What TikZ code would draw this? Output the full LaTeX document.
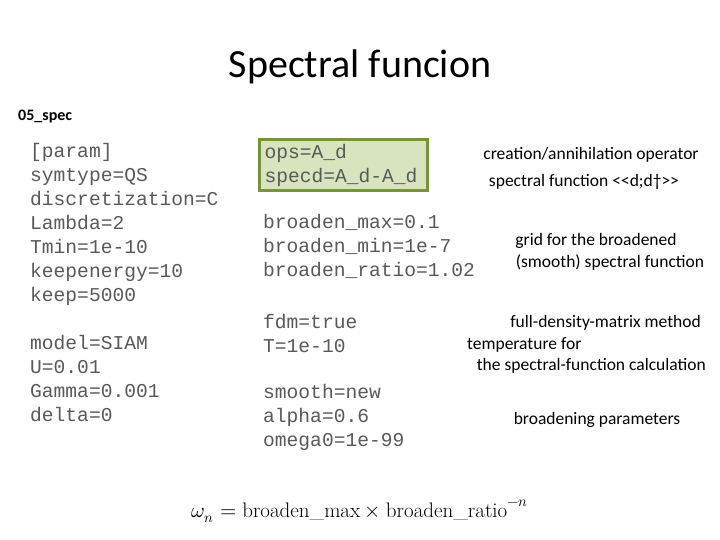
\documentclass[tikz,border=0pt]{standalone}
\usepackage{fontspec}
\setmainfont{Carlito}
\setmonofont{Liberation Mono}
\usepackage{amsmath}
\usepackage{unicode-math}
\setmathfont{Latin Modern Math}
\newfontfamily\lmr{Latin Modern Roman}
\definecolor{txt}{HTML}{595959}
\definecolor{boxfill}{HTML}{D7E4BD}
\definecolor{boxdraw}{HTML}{77933C}
\begin{document}
\begin{tikzpicture}[x=1pt,y=-1pt,
  code/.style={anchor=west,align=left,text=txt,font=\fontsize{19.6}{24}\ttfamily,inner sep=0pt},
  note/.style={font=\fontsize{17.5}{22}\selectfont,inner sep=0pt,align=center}]
\useasboundingbox (0,0) rectangle (720,540);
\node (title) at (360,67) {\fontsize{40}{48}\selectfont Spectral funcion};
\node[anchor=west,inner sep=0pt,font=\bfseries\fontsize{16}{18}\selectfont] (sec) at (18,117) {05\_spec};
\node[code] (p1) at (30,224) {[param]\\symtype=QS\\discretization=C\\Lambda=2\\Tmin=1e-10\\keepenergy=10\\keep=5000};
\node[code] (p2) at (30,379) {model=SIAM\\U=0.01\\Gamma=0.001\\delta=0};
\node[code,fill=boxfill,draw=boxdraw,line width=3pt,inner xsep=5pt,inner ysep=4pt,text width=158pt] (ops) at (258,165) {ops=A\_d\\specd=A\_d-A\_d};
\node[code] (b) at (263,246) {broaden\_max=0.1\\broaden\_min=1e-7\\broaden\_ratio=1.02};
\node[code] (f) at (263,333) {fdm=true\\T=1e-10};
\node[code] (s) at (263,417) {smooth=new\\alpha=0.6\\omega0=1e-99};
\node[note] (n1) at (591,155) {creation/annihilation operator};
\node[note] (n2) at (584,182) {spectral function <{}<d;d†>{}>};
\node[note] (n3) at (610,252) {\hspace*{-28pt}grid for the broadened\\(smooth) spectral function};
\node[note,anchor=east] (n4) at (701,323) {full-density-matrix method};
\node[note,anchor=west] (n5) at (467,345) {temperature for};
\node[note,anchor=east] (n6) at (706,366) {the spectral-function calculation};
\node[note] (n7) at (597,420) {broadening parameters};
\node (eq) at (360,511) {\fontsize{21}{25}\selectfont $\omega_n = \text{\lmr broaden\_max} \times \text{\lmr broaden\_ratio}^{-n}$};
\end{tikzpicture}
\end{document}
